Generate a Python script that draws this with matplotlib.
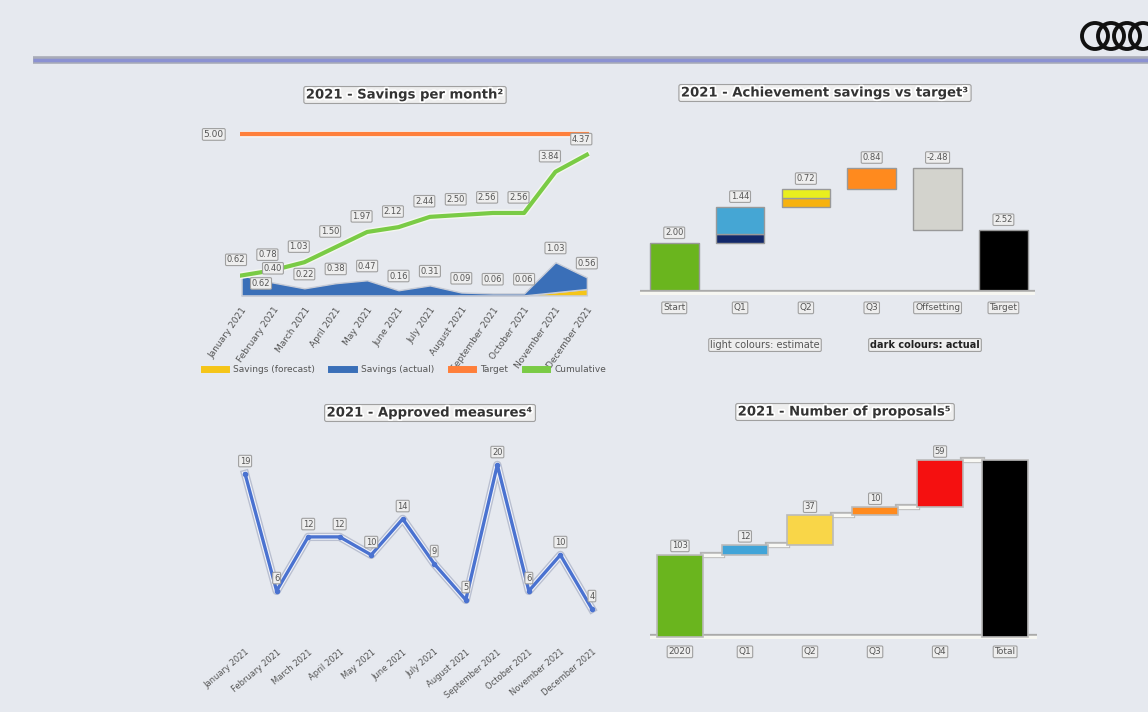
import numpy as np
import matplotlib
matplotlib.use("Agg")
import matplotlib.pyplot as plt
import matplotlib.patheffects as pe
from matplotlib.lines import Line2D
from matplotlib.patches import Circle

# ---- data -------------------------------------------------------------
months = ["January 2021", "February 2021", "March 2021", "April 2021", "May 2021",
          "June 2021", "July 2021", "August 2021", "September 2021", "October 2021",
          "November 2021", "December 2021"]
savings_forecast = [0, 0, 0, 0, 0, 0, 0, 0, 0, 0, 0.10, 0.20]
savings_actual = [0.62, 0.40, 0.22, 0.38, 0.47, 0.16, 0.31, 0.09, 0.06, 0.06, 0.93, 0.36]
savings_cumulative = [0.62, 0.78, 1.03, 1.50, 1.97, 2.12, 2.44, 2.50, 2.56, 2.56, 3.84, 4.37]
savings_target = 5.00

wf1_cats = ["Start", "Q1", "Q2", "Q3", "Offsetting", "Target"]
wf1_values = [2.00, 1.44, 0.72, 0.84, -2.48, 2.52]
wf1_actual = [2.00, 0.36, 0.36, 0.00, 0.00, 2.52]

measures = [19, 6, 12, 12, 10, 14, 9, 5, 20, 6, 10, 4]

wf2_cats = ["2020", "Q1", "Q2", "Q3", "Q4", "Total"]
wf2_values = [103, 12, 37, 10, 59, 221]

# ---- style ------------------------------------------------------------
BG = "#e6e9ef"
halo = [pe.withStroke(linewidth=2.5, foreground="white")]
box = dict(boxstyle="round,pad=0.15", fc="#eeeeee", ec="#a0a0a0", lw=0.8)
plt.rcParams["font.family"] = ["DejaVu Sans"]

fig = plt.figure(figsize=(11.48, 7.12), dpi=100, facecolor=BG)
W, H = 1148, 712


def fig_axes(x0, y0, x1, y1):
    # pixel box -> figure fraction
    a = fig.add_axes([x0 / W, 1 - y1 / H, (x1 - x0) / W, (y1 - y0) / H])
    a.set_facecolor("none")
    for s in a.spines.values():
        s.set_visible(False)
    return a


def title(x, y, txt):
    fig.text(x / W, 1 - y / H, txt, ha="center", va="center", fontsize=9.5,
             fontweight="bold", color="#333333", path_effects=halo, bbox=box)


# header rule + rings
fig.add_artist(Line2D([33 / W, 1], [1 - 60 / H] * 2, color="#a9acb8", lw=5.5,
                      solid_capstyle="butt"))
fig.add_artist(Line2D([33 / W, 1], [1 - 60 / H] * 2, color="#8b91d2", lw=2.5,
                      solid_capstyle="butt"))
logo = fig_axes(1076, 18, 1148, 54)
logo.set_xlim(1076, 1148)
logo.set_ylim(54, 18)
logo.set_xticks([])
logo.set_yticks([])
for cx in [1095, 1111, 1127, 1143]:
    logo.add_patch(Circle((cx, 36), 13, fill=False, ec="#111111", lw=2.8))

# ---- top left: savings per month -------------------------------------
title(405, 95, "2021 - Savings per month²")
ax1 = fig_axes(240, 128, 590, 297)
x = np.arange(len(months))
ax1.set_xlim(-0.05, 11.1)
ax1.set_ylim(-0.05, 5.2)
ax1.stackplot(x, savings_forecast, savings_actual, colors=["#f5c518", "#3a6fb8"],
              edgecolor="#c8ccd6", lw=1)
ax1.plot(x, savings_cumulative, color="#7acb45", lw=3,
         path_effects=[pe.withStroke(linewidth=5, foreground="#f4f6f0")])
ax1.plot([0, 11], [savings_target] * 2, color="#ff7f3a", lw=3,
         path_effects=[pe.withStroke(linewidth=5, foreground="#f4f0ee")])
ax1.annotate(f"{savings_target:.2f}", (0, savings_target), xytext=(-20, 0),
             textcoords="offset points", ha="center", va="center", fontsize=6.5,
             bbox=box, color="#555555")
monthly = np.add(savings_forecast, savings_actual)
for i in range(len(months)):
    off = (14, -9) if i == 0 else (0, 7)
    ax1.annotate(f"{monthly[i]:.2f}", (i, monthly[i]), xytext=off,
                 textcoords="offset points", ha="center", va="bottom", fontsize=6,
                 bbox=box, color="#555555")
    ax1.annotate(f"{savings_cumulative[i]:.2f}", (i, savings_cumulative[i]),
                 xytext=(-4, 8), textcoords="offset points", ha="center",
                 va="bottom", fontsize=6, bbox=box, color="#555555")
ax1.set_yticks([])
ax1.set_xticks(x)
ax1.set_xticklabels(months, rotation=55, ha="right", rotation_mode="anchor",
                    fontsize=6.5, color="#555555")
ax1.tick_params(axis="x", length=0, pad=6)
handles = [Line2D([], [], color="#f5c518", lw=5),
           Line2D([], [], color="#3a6fb8", lw=5),
           Line2D([], [], color="#ff7f3a", lw=5),
           Line2D([], [], color="#7acb45", lw=5)]
fig.legend(handles, ["Savings (forecast)", "Savings (actual)", "Target", "Cumulative"],
           loc="center", bbox_to_anchor=(405 / W, 1 - 370 / H), ncol=4, fontsize=6.5,
           frameon=False, handlelength=2.5, columnspacing=1.8, labelcolor="#555555")

# ---- top right: achievement vs target --------------------------------
title(825, 93, "2021 - Achievement savings vs target³")
ax2 = fig_axes(640, 140, 1035, 295)
ax2.set_xlim(-0.52, 5.48)
ax2.set_ylim(-0.08, 6.1)
light = ["#6ab51e", "#45a6d4", "#e9ee1e", "#ff8a1e", "#d3d3cd", "#000000"]
dark = ["#6ab51e", "#12286a", "#f7b20f", "#e8700a", "#d3d3cd", "#000000"]
run = 0.0
for i, v in enumerate(wf1_values):
    if i == 0 or i == len(wf1_values) - 1:
        bottom = 0.0
    else:
        bottom = run if v > 0 else run + v
    h = abs(v)
    act = wf1_actual[i]
    if act > 0:
        ax2.bar(i, act, bottom=bottom, width=0.74, color=dark[i], ec="#999999", lw=1)
    if h - act > 0:
        ax2.bar(i, h - act, bottom=bottom + act, width=0.74, color=light[i],
                ec="#999999", lw=1)
    ax2.annotate(f"{v:.2f}", (i, bottom + h), xytext=(0, 4), textcoords="offset points",
                 ha="center", va="bottom", fontsize=6, bbox=box, color="#555555")
    run = v if i == 0 else run + v
ax2.axhline(0, color="#aaaaaa", lw=4.5)
ax2.axhline(0, color="#f7f7f2", lw=2.5)
ax2.set_yticks([])
ax2.set_xticks(range(len(wf1_cats)))
ax2.set_xticklabels(wf1_cats, fontsize=6.5, color="#555555")
ax2.tick_params(axis="x", length=0, pad=6)
for lbl in ax2.get_xticklabels():
    lbl.set_bbox(box)
fig.text(765 / W, 1 - 345 / H, "light colours: estimate", ha="center", va="center",
         fontsize=7, color="#555555", bbox=box)
fig.text(925 / W, 1 - 345 / H, "dark colours: actual", ha="center", va="center",
         fontsize=7, color="#222222", fontweight="bold", bbox=box)

# ---- bottom left: approved measures ----------------------------------
title(430, 413, "2021 - Approved measures⁴")
ax3 = fig_axes(235, 455, 602, 617)
ax3.set_xlim(-0.32, 11.32)
ax3.set_ylim(3.1, 21.1)
ax3.plot(x, measures, color="#b9bfd0", lw=6, solid_joinstyle="round")
ax3.plot(x, measures, color="#f2f4fb", lw=4)
ax3.plot(x, measures, color="#4a72d0", lw=2.4, marker="o", ms=3)
for i, v in enumerate(measures):
    ax3.annotate(str(v), (i, v), xytext=(0, 6), textcoords="offset points",
                 ha="center", va="bottom", fontsize=6, bbox=box, color="#555555")
ax3.set_yticks([])
ax3.set_xticks(x)
ax3.set_xticklabels(months, rotation=40, ha="right", rotation_mode="anchor",
                    fontsize=6, color="#555555")
ax3.tick_params(axis="x", length=0, pad=22)

# ---- bottom right: number of proposals -------------------------------
title(845, 412, "2021 - Number of proposals⁵")
ax4 = fig_axes(650, 445, 1037, 639)
ax4.set_xlim(-0.46, 5.49)
ax4.set_ylim(-2.5, 240)
colors2 = ["#6ab51e", "#41a4d8", "#f9d648", "#ff8a1e", "#f51010", "#000000"]
run = 0
for i, v in enumerate(wf2_values):
    last = i == len(wf2_values) - 1
    bottom = 0 if (i == 0 or last) else run
    ax4.bar(i, v, bottom=bottom, width=0.7, color=colors2[i], ec="#bbbbbb", lw=1.2)
    if not last:
        ax4.annotate(str(v), (i, bottom + v), xytext=(0, 3), textcoords="offset points",
                     ha="center", va="bottom", fontsize=6, bbox=box, color="#555555")
    run = run + v if not last else v
    if not last:
        ax4.plot([i + 0.35, i + 0.65], [run, run], color="#b5b5b5", lw=4.5, zorder=0)
        ax4.plot([i + 0.35, i + 0.65], [run, run], color="#f8f8f4", lw=2.5, zorder=0)
ax4.axhline(0, color="#aaaaaa", lw=4.5, zorder=0)
ax4.axhline(0, color="#f7f7f2", lw=2.5, zorder=0)
ax4.set_yticks([])
ax4.set_xticks(range(len(wf2_cats)))
ax4.set_xticklabels(wf2_cats, fontsize=6.5, color="#555555")
ax4.tick_params(axis="x", length=0, pad=6)
for lbl in ax4.get_xticklabels():
    lbl.set_bbox(box)

fig.savefig("out.png", dpi=100, facecolor=BG)
